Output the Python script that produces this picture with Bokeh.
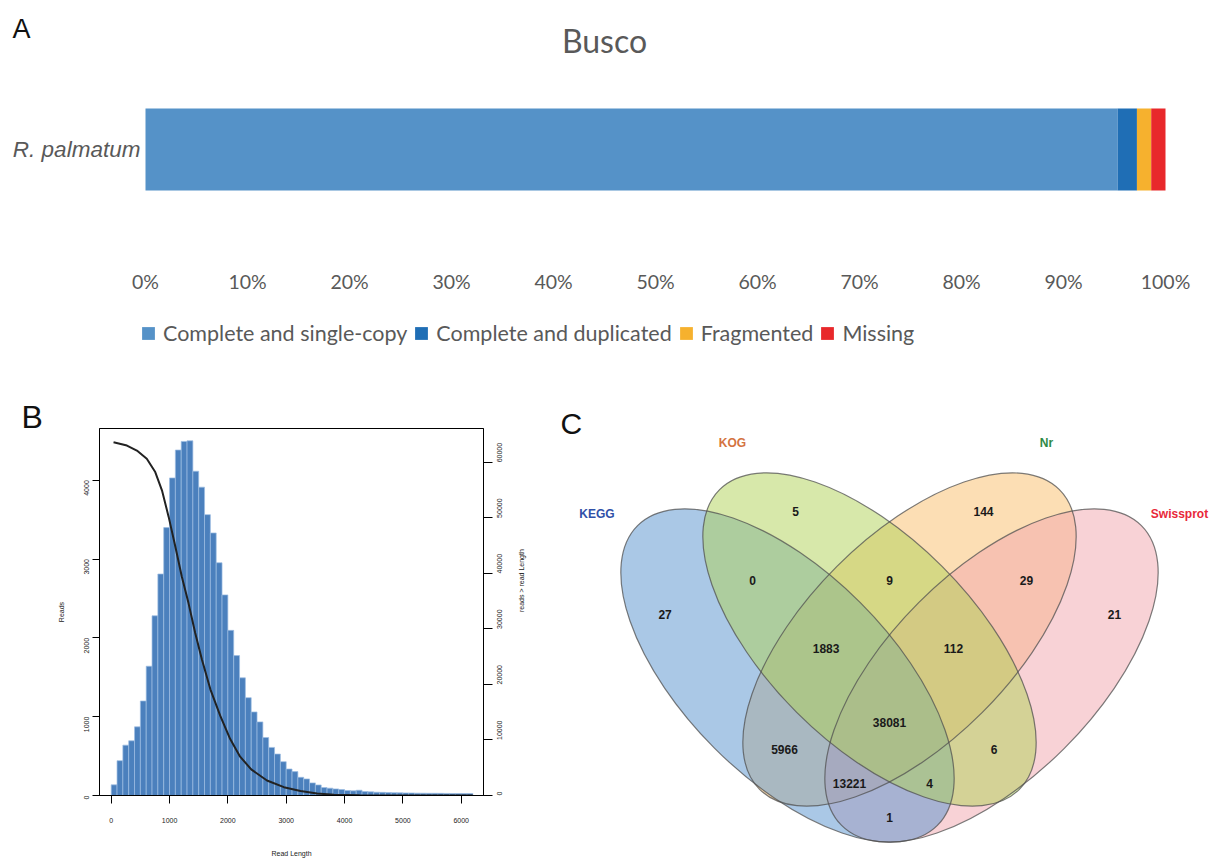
import math
import numpy as np
from bokeh.plotting import figure
from bokeh.models import (Range1d, LinearAxis, FixedTicker, PrintfTickFormatter,
                          Legend, LegendItem, Label, ColumnDataSource)
from bokeh.layouts import column, row
from bokeh.embed import file_html
from bokeh.resources import INLINE
from bokeh.core.properties import value

# ---------------- Panel A data (BUSCO) ----------------
busco_species = ["R. palmatum"]
busco_categories = ["Complete and single-copy", "Complete and duplicated", "Fragmented", "Missing"]
busco_percent = [95.3, 1.9, 1.4, 1.4]
busco_colors = ["#5592c8", "#1f6eb5", "#f6b12e", "#e8282b"]
busco_ticks = [0, 10, 20, 30, 40, 50, 60, 70, 80, 90, 100]

# ---------------- Panel B data (read length histogram) ----------------
bin_width = 100
read_counts = [135, 442, 639, 694, 871, 1199, 1640, 2280, 2810, 3399,
               4029, 4383, 4492, 4500, 4114, 3912, 3563, 3331, 2953, 2545,
               2095, 1775, 1493, 1241, 1060, 934, 736, 610, 526, 429,
               336, 303, 231, 210, 160, 134, 101, 93, 84, 76,
               63, 59, 67, 50, 46, 42, 40, 38, 36, 34,
               33, 32, 30, 29, 28, 28, 27, 26, 25, 25, 24, 24]
cum_len = [40, 270, 440, 610, 755, 870, 985, 1100, 1210, 1325, 1440, 1555, 1700,
           1870, 2040, 2210, 2400, 2670, 2960, 3245, 3530, 3820, 4260, 5000, 6200]
cum_reads = [63620, 63030, 62130, 60640, 58250, 54960, 50180, 44800, 39430, 34650,
             29270, 24490, 19120, 14340, 10160, 7000, 4700, 2700, 1500, 800,
             380, 150, 50, 10, 0]
len_ticks = [0, 1000, 2000, 3000, 4000, 5000, 6000]
reads_ticks = [0, 1000, 2000, 3000, 4000]
cum_ticks = [0, 10000, 20000, 30000, 40000, 50000, 60000]

# ---------------- Panel C data (Venn) ----------------
venn_sets = ["KEGG", "KOG", "Nr", "Swissprot"]
venn_set_colors = ["#3050a8", "#d4733f", "#2e8a46", "#e8283a"]
venn_fills = ["#5591cd", "#afd255", "#f9bd69", "#f1a5ad"]
venn_counts = [27, 5, 144, 21, 0, 9, 29, 1883, 112, 38081, 5966, 6, 13221, 4, 1]

# Venn layout (panel pixel coordinates, origin bottom-left of panel C)
ell_x = [227, 309, 349, 431]
ell_y = [184, 220, 220, 184]
ell_angle = [-math.pi / 4, -math.pi / 4, math.pi / 4, math.pi / 4]
ell_w = 424
ell_h = 206
fill_order = [2, 3, 0, 1]
set_lab_x = [36.5, 172, 486, 619]
set_lab_y = [346, 417, 417, 346]
cnt_x = [104.6, 235, 423, 554, 192, 329, 466, 265.6, 393, 329, 224, 433.6, 289, 369, 329]
cnt_y = [245, 348, 348, 245, 279, 279, 279, 211, 211, 137, 110, 110, 76, 76, 42]

GRAY = "#595959"
TXT_FIX = 12  # Label baseline compensation (px)

# ================= Panel A : bar =================
px_per_pct = 10.2
pA = figure(width=1210, height=300,
            x_range=Range1d(-145 / px_per_pct, (1210 - 145) / px_per_pct),
            y_range=Range1d(-69 / 82, 149 / 82),
            min_border_left=0, min_border_right=0, min_border_top=0, min_border_bottom=82,
            y_axis_location=None, title_location=None, frame_align=False,
            output_backend="svg", toolbar_location=None)
ypos = list(range(len(busco_species)))
lefts = np.concatenate([[0], np.cumsum(busco_percent)[:-1]])
rights = np.cumsum(busco_percent)
for i, cat in enumerate(busco_categories):
    pA.hbar(y=ypos, left=[lefts[i]], right=[rights[i]], height=1.0,
            fill_color=busco_colors[i], line_color=None)
pA.text(x=[-0.5] * len(busco_species), y=ypos, text=busco_species, text_align="right",
        text_baseline="middle", text_font=value("Liberation Sans"), text_font_style="italic",
        text_font_size="22.5px", text_color=GRAY)
pA.xgrid.visible = False
pA.ygrid.visible = False
pA.outline_line_color = None
pA.xaxis.ticker = FixedTicker(ticks=busco_ticks)
pA.xaxis.formatter = PrintfTickFormatter(format="%d%%")
pA.xaxis.axis_line_color = None
pA.xaxis.major_tick_line_color = None
pA.xaxis.minor_tick_line_color = None
pA.xaxis.major_tick_out = 0
pA.xaxis.major_tick_in = 0
pA.xaxis.major_label_text_font = "Lato"
pA.xaxis.major_label_text_font_size = "19.5px"
pA.xaxis.major_label_text_color = GRAY
pA.xaxis.major_label_standoff = 51
pA.add_layout(Label(x=12, y=178 + TXT_FIX, x_units="screen", y_units="screen", text="A",
                    text_baseline="alphabetic",
                    text_font="Liberation Sans", text_font_size="27px", text_color="#111111"))
pA.add_layout(Label(x=604, y=166 + TXT_FIX, x_units="screen", y_units="screen", text="Busco",
                    text_align="center", text_baseline="alphabetic",
                    text_font="Lato", text_font_size="32px", text_color=GRAY))

# ================= Panel A : legend strip =================
pL = figure(width=1210, height=80, x_range=Range1d(0, 1), y_range=Range1d(0, 1),
            min_border_left=0, min_border_right=0, min_border_top=0, min_border_bottom=0,
            x_axis_location=None, y_axis_location=None, title_location=None, frame_align=False,
            output_backend="svg", toolbar_location=None)
pL.xgrid.visible = False
pL.ygrid.visible = False
pL.outline_line_color = None
leg_renderers = []
for i, cat in enumerate(busco_categories):
    # zero-width swatch carriers: the legend shows each category's colour
    r = pL.hbar(y=[0.5], left=[0], right=[0], height=0.0,
                fill_color=busco_colors[i], line_color=None)
    leg_renderers.append(r)
legend = Legend(items=[LegendItem(label=c, renderers=[r]) for c, r in zip(busco_categories, leg_renderers)],
                orientation="horizontal", location=(140, 34),
                glyph_width=16, glyph_height=16, label_height=16, label_standoff=7, spacing=6,
                padding=0, margin=0, border_line_color=None, background_fill_alpha=0,
                label_text_font="Lato", label_text_font_size="21.5px", label_text_color=GRAY,
                label_text_baseline="middle")
pL.add_layout(legend, "center")

# ================= Panel B =================
edges = np.arange(len(read_counts) + 1) * bin_width
pB = figure(width=560, height=479, x_range=Range1d(-200.6, 6382), y_range=Range1d(0, 4656),
            min_border_left=99, min_border_right=77, min_border_top=48, min_border_bottom=62,
            frame_align=False, output_backend="svg", toolbar_location=None)
pB.title.text = "B"
pB.title.align = "left"
pB.title.offset = -78
pB.title.standoff = -12
pB.title.text_font = "Liberation Sans"
pB.title.text_font_style = "normal"
pB.title.text_font_size = "32px"
pB.title.text_color = "#111111"
pB.quad(left=edges[:-1], right=edges[1:], bottom=0, top=read_counts,
        fill_color="#4b80bd", line_color="#9dbde2", line_width=0.7)
pB.extra_y_ranges = {"cum": Range1d(0, 66100)}
pB.line(cum_len, cum_reads, y_range_name="cum", line_color="#222222", line_width=2)
pB.xgrid.visible = False
pB.ygrid.visible = False
pB.outline_line_color = "black"
pB.outline_line_width = 1
pB.outline_line_alpha = 1

right_axis = LinearAxis(y_range_name="cum", axis_label="reads > read Length")
pB.add_layout(right_axis, "right")

for ax in pB.axis:
    ax.axis_line_color = "black"
    ax.major_tick_line_color = "black"
    ax.minor_tick_line_color = None
    ax.major_tick_in = 0
    ax.major_label_text_font = "Liberation Sans"
    ax.major_label_text_font_size = "7px"
    ax.major_label_text_color = "#222222"
    ax.axis_label_text_font = "Liberation Sans"
    ax.axis_label_text_font_size = "7px"
    ax.axis_label_text_font_style = "normal"
    ax.axis_label_text_color = "#222222"

pB.xaxis.ticker = FixedTicker(ticks=len_ticks)
pB.xaxis.major_tick_out = 8
pB.xaxis.major_label_standoff = 14
pB.xaxis.axis_label = "Read Length"
pB.xaxis.axis_label_standoff = 24

pB.yaxis[0].ticker = FixedTicker(ticks=reads_ticks)
pB.yaxis[0].major_tick_out = 7
pB.yaxis[0].major_label_orientation = math.pi / 2
pB.yaxis[0].major_label_standoff = 6
pB.yaxis[0].axis_label = "Reads"
pB.yaxis[0].axis_label_standoff = 14

right_axis.ticker = FixedTicker(ticks=cum_ticks)
right_axis.major_tick_out = 9
right_axis.major_label_orientation = math.pi / 2
right_axis.major_label_standoff = 7
right_axis.axis_label_standoff = 14
try:
    right_axis.axis_label_orientation = math.pi / 2
except Exception:
    pass

# ================= Panel C =================
pC = figure(width=650, height=479, x_range=Range1d(0, 650), y_range=Range1d(0, 479),
            min_border_left=0, min_border_right=0, min_border_top=0, min_border_bottom=0,
            x_axis_location=None, y_axis_location=None, title_location=None, frame_align=False,
            output_backend="svg", toolbar_location=None)
pC.xgrid.visible = False
pC.ygrid.visible = False
pC.outline_line_color = None
for i in fill_order:
    pC.ellipse(x=[ell_x[i]], y=[ell_y[i]], width=ell_w, height=ell_h, angle=ell_angle[i],
               fill_color=venn_fills[i], fill_alpha=0.5, line_color=None)
for i in range(4):
    pC.ellipse(x=[ell_x[i]], y=[ell_y[i]], width=ell_w, height=ell_h, angle=ell_angle[i],
               fill_color=None, line_color="#505050", line_width=1.2, line_alpha=0.75)
src_sets = ColumnDataSource(dict(x=set_lab_x, y=set_lab_y, t=venn_sets, c=venn_set_colors))
pC.text(x="x", y="y", text="t", text_color="c", source=src_sets, text_align="center",
        text_baseline="middle", text_font=value("Liberation Sans"), text_font_style="bold",
        text_font_size="12px")
src_cnt = ColumnDataSource(dict(x=cnt_x, y=cnt_y, t=[str(v) for v in venn_counts]))
pC.text(x="x", y="y", text="t", source=src_cnt, text_align="center", text_baseline="middle",
        text_color="#1a1a1a", text_font=value("Liberation Sans"), text_font_style="bold",
        text_font_size="12px")
pC.add_layout(Label(x=0, y=424 + TXT_FIX, x_units="screen", y_units="screen", text="C",
                    text_baseline="alphabetic",
                    text_font="Liberation Sans", text_font_size="30px", text_color="#111111"))

layout = column(pA, pL, row(pB, pC))
open("out.html", "w").write(file_html(layout, INLINE))
